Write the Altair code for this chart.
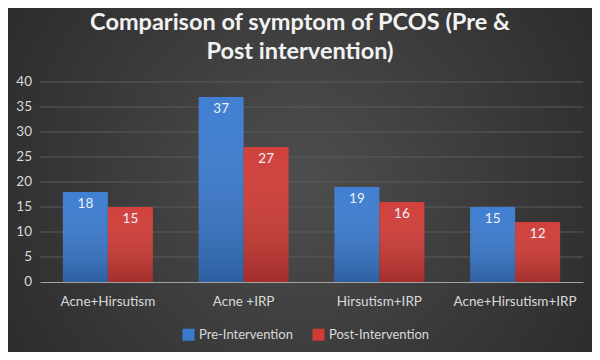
import altair as alt
import pandas as pd

categories = ["Acne+Hirsutism", "Acne +IRP", "Hirsutism+IRP", "Acne+Hirsutism+IRP"]
series = ["Pre-Intervention", "Post-Intervention"]
pre_values = [18, 37, 19, 15]
post_values = [15, 27, 16, 12]
grid_ticks = [5, 10, 15, 20, 25, 30, 35, 40]
axis_ticks = [0, 5, 10, 15, 20, 25, 30, 35, 40]
title_lines = ["Comparison of symptom of PCOS (Pre &", "Post intervention)"]

rows = []
for c, a, b in zip(categories, pre_values, post_values):
    rows.append({"cat": c, "series": series[0], "value": a})
    rows.append({"cat": c, "series": series[1], "value": b})
df = pd.DataFrame(rows)
grid_df = pd.DataFrame({"value": grid_ticks})
tick_df = pd.DataFrame({"value": axis_ticks})
one_df = pd.DataFrame({"a": [0]})

FONT = "Lato"
PLOT_W, PLOT_H = 543, 200
PAD = {"left": 32, "top": 74, "right": 9, "bottom": 70}

y_scale = alt.Scale(domain=[0, 40], nice=False)
y_enc = alt.Y("value:Q", scale=y_scale, axis=None)

x_enc = alt.X(
    "cat:N",
    sort=categories,
    scale=alt.Scale(paddingInner=0.337, paddingOuter=0.1685),
    axis=alt.Axis(
        title=None, labelAngle=0, ticks=False, domain=True, domainColor="#a3a3a3",
        domainWidth=1.2, labelColor="#d9d9d9", labelFont=FONT, labelFontSize=13.5,
        labelPadding=12, zindex=1,
    ),
)
xo_enc = alt.XOffset("series:N", sort=series, scale=alt.Scale(paddingInner=0, paddingOuter=0))

background = alt.Chart(one_df).mark_rect(
    fill={
        "gradient": "radial",
        "x1": 0.5, "y1": 0.5, "x2": 0.5, "y2": 0.5, "r1": 0, "r2": 0.72,
        "stops": [
            {"offset": 0, "color": "#4e4e4e"},
            {"offset": 1, "color": "#242424"},
        ],
    }
).encode(
    x=alt.value(-PAD["left"]),
    x2=alt.value(PLOT_W + PAD["right"]),
    y=alt.value(-PAD["top"]),
    y2=alt.value(PLOT_H + PAD["bottom"]),
)

grid = alt.Chart(grid_df).mark_rule(color="#5a5a5a", strokeWidth=1).encode(y=y_enc)

y_labels = alt.Chart(tick_df).mark_text(
    align="right", baseline="middle", dx=-8, font=FONT, fontSize=13.5, color="#d9d9d9"
).encode(x=alt.value(0), y=y_enc, text=alt.Text("value:Q"))

bars = alt.Chart(df).mark_bar().encode(
    x=x_enc,
    xOffset=xo_enc,
    y=y_enc,
    color=alt.Color(
        "series:N",
        sort=series,
        scale=alt.Scale(domain=series, range=["#3a7bd0", "#d03b36"]),
        legend=alt.Legend(
            title=None, orient="none", legendX=142, legendY=246, direction="horizontal",
            symbolType="square", symbolSize=144, symbolStrokeWidth=0,
            labelColor="#d9d9d9", labelFont=FONT, labelFontSize=13, labelOffset=4,
            columnPadding=19, padding=0,
        ),
    ),
)

shade = alt.Chart(df).mark_bar(
    fill={
        "gradient": "linear", "x1": 0, "y1": 0, "x2": 0, "y2": 1,
        "stops": [
            {"offset": 0, "color": "rgba(255,255,255,0.03)"},
            {"offset": 1, "color": "rgba(0,0,0,0.22)"},
        ],
    }
).encode(x=x_enc, xOffset=xo_enc, y=y_enc)

labels = alt.Chart(df).mark_text(
    baseline="top", dy=5, color="#eef2f7", font=FONT, fontSize=13.5
).encode(
    x=x_enc,
    xOffset=xo_enc,
    y=y_enc,
    text=alt.Text("value:Q"),
)

title_cx = PLOT_W / 2 - 11.5
title_marks = [
    alt.Chart(one_df).mark_text(
        align="center", baseline="alphabetic", font=FONT, fontSize=23.5,
        fontWeight="bold", color="#f2f2f2",
    ).encode(x=alt.value(title_cx), y=alt.value(yy), text=alt.value(line))
    for line, yy in zip(title_lines, [-52.5, -23.5])
]

chart = alt.layer(background, grid, y_labels, bars, shade, labels, *title_marks).properties(
    width=PLOT_W,
    height=PLOT_H,
    padding=PAD,
    autosize=alt.AutoSizeParams(type="none"),
    background="#2b2b2b",
).configure_view(stroke=None)

chart.save("out.html", embed_options={"renderer": "svg", "actions": False})
